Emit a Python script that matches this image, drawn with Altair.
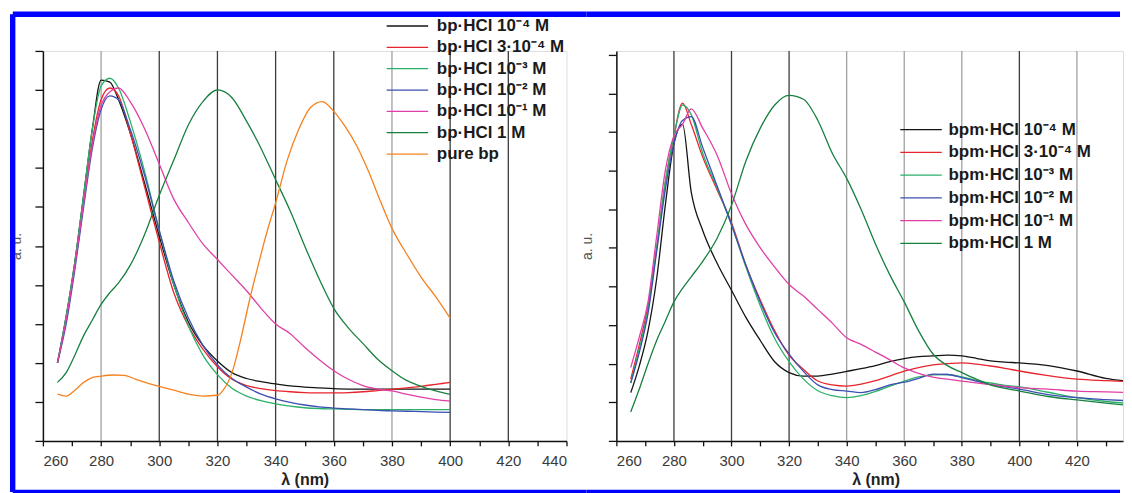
import altair as alt
import pandas as pd

# ---------------- left panel (bp) ----------------
bp_names = ["bp·HCl 10⁻⁴ M", "bp·HCl 3·10⁻⁴ M", "bp·HCl 10⁻³ M", "bp·HCl 10⁻² M",
            "bp·HCl 10⁻¹ M", "bp·HCl 1 M", "pure bp"]
bp_colors = ["#141414", "#e8242c", "#2bb06a", "#3e4fb2", "#e03fa6", "#17803f", "#f5821f"]

bp_wl = [265, 268, 271, 274, 277, 280, 283, 286, 290, 295, 300, 305, 310, 315, 320,
         325, 330, 335, 340, 345, 350, 355, 360, 365, 370, 375, 380, 385, 390, 395, 400]
bp_1e4 = [2.0, 3.2, 4.6, 6.3, 8.0, 9.25, 9.2, 8.75, 7.9, 6.6, 5.25, 4.0, 3.05, 2.45, 2.05,
          1.75, 1.6, 1.52, 1.46, 1.41, 1.38, 1.36, 1.34, 1.33, 1.33, 1.33, 1.33, 1.33, 1.33, 1.33, 1.33]
bp_3e4 = [2.0, 3.1, 4.5, 6.1, 7.7, 8.75, 9.05, 8.85, 7.9, 6.5, 5.1, 3.8, 2.95, 2.35, 1.9,
          1.58, 1.42, 1.34, 1.29, 1.26, 1.24, 1.23, 1.23, 1.24, 1.26, 1.29, 1.32, 1.36, 1.4, 1.45, 1.5]
bp_1e3 = [2.0, 3.2, 4.6, 6.3, 8.0, 9.1, 9.3, 9.05, 8.2, 6.9, 5.4, 4.0, 2.95, 2.2, 1.7,
          1.35, 1.15, 1.03, 0.95, 0.89, 0.85, 0.83, 0.82, 0.81, 0.8, 0.8, 0.8, 0.8, 0.8, 0.8, 0.8]
bp_1e2 = [2.0, 3.0, 4.4, 6.0, 7.5, 8.5, 8.85, 8.75, 8.0, 6.8, 5.4, 4.1, 3.15, 2.45, 1.95,
          1.6, 1.38, 1.2, 1.08, 0.99, 0.92, 0.87, 0.84, 0.82, 0.8, 0.78, 0.77, 0.76, 0.75, 0.74, 0.73]
bp_1e1 = [2.0, 3.1, 4.5, 6.1, 7.6, 8.6, 8.95, 9.05, 8.7, 8.0, 7.1, 6.2, 5.6, 5.05, 4.65,
          4.25, 3.85, 3.4, 3.0, 2.75, 2.4, 2.08, 1.8, 1.58, 1.42, 1.33, 1.28, 1.2, 1.12, 1.06, 1.02]
bp_1m = [1.5, 1.75, 2.2, 2.7, 3.1, 3.5, 3.8, 4.05, 4.5, 5.3, 6.3, 7.2, 8.1, 8.7, 9.0,
         8.8, 8.2, 7.5, 6.7, 5.9, 5.0, 4.15, 3.4, 2.9, 2.5, 2.1, 1.8, 1.55, 1.4, 1.28, 1.19]
pure_wl = [265, 268, 271, 274, 277, 280, 284, 288, 292, 296, 300, 305, 310, 315, 320,
           322, 325, 328, 331, 334, 337, 340, 344, 348, 352, 356, 360, 364, 368, 372,
           376, 380, 385, 390, 395, 400]
pure_bp = [1.2, 1.15, 1.3, 1.5, 1.62, 1.66, 1.69, 1.68, 1.58, 1.48, 1.4, 1.3, 1.2, 1.15, 1.17,
           1.3, 1.75, 2.6, 3.6, 4.5, 5.35, 6.1, 7.2, 8.0, 8.55, 8.7, 8.45, 8.05, 7.55, 6.9,
           6.15, 5.45, 4.8, 4.2, 3.7, 3.15]

# ---------------- right panel (bpm) ----------------
bpm_names = ["bpm·HCl 10⁻⁴ M", "bpm·HCl 3·10⁻⁴ M", "bpm·HCl 10⁻³ M", "bpm·HCl 10⁻² M",
             "bpm·HCl 10⁻¹ M", "bpm·HCl 1 M"]
bpm_colors = ["#141414", "#e8242c", "#2bb06a", "#3e4fb2", "#e03fa6", "#17803f"]

bpm_wl = [265, 268, 271, 274, 277, 280, 283, 286, 290, 295, 300, 305, 310, 315, 320,
          325, 330, 335, 340, 345, 350, 355, 360, 365, 370, 375, 380, 385, 390, 395, 400,
          410, 420, 430, 440]
bpm_1e4 = [1.25, 1.95, 2.85, 4.2, 6.1, 7.7, 8.2, 6.45, 5.45, 4.6, 3.9, 3.2, 2.6, 2.05, 1.77,
           1.68, 1.68, 1.73, 1.8, 1.87, 1.95, 2.05, 2.13, 2.18, 2.2, 2.22, 2.2, 2.14, 2.07, 2.04,
           2.02, 1.95, 1.81, 1.62, 1.53]
bpm_3e4 = [1.6, 2.5, 3.5, 5.0, 6.7, 7.9, 8.75, 8.2, 7.35, 6.5, 5.65, 4.55, 3.65, 2.85, 2.22,
           1.85, 1.55, 1.45, 1.42, 1.47, 1.56, 1.68, 1.81, 1.9, 1.97, 2.0, 2.02, 1.99, 1.94, 1.88,
           1.81, 1.69, 1.6, 1.56, 1.53]
bpm_1e3 = [1.5, 2.4, 3.4, 5.0, 6.7, 7.9, 8.7, 8.45, 7.45, 6.55, 5.6, 4.5, 3.5, 2.65, 2.05,
           1.6, 1.3, 1.17, 1.12, 1.17, 1.28, 1.42, 1.55, 1.66, 1.71, 1.72, 1.66, 1.57, 1.5, 1.44,
           1.4, 1.26, 1.12, 1.02, 0.96]
bpm_1e2 = [1.5, 2.3, 3.3, 4.9, 6.5, 7.7, 8.3, 8.4, 7.6, 6.6, 5.6, 4.55, 3.6, 2.8, 2.25,
           1.8, 1.45, 1.33, 1.29, 1.25, 1.33, 1.45, 1.52, 1.62, 1.73, 1.72, 1.64, 1.55, 1.46, 1.4,
           1.34, 1.2, 1.12, 1.07, 1.03]
bpm_1e1 = [1.9, 2.7, 3.6, 5.3, 7.0, 7.9, 8.2, 8.6, 8.1, 7.4, 6.4, 5.6, 5.0, 4.5, 4.05,
           3.75, 3.4, 3.05, 2.67, 2.5, 2.3, 2.1, 1.89, 1.75, 1.65, 1.6, 1.55, 1.5, 1.46, 1.42,
           1.38, 1.34, 1.29, 1.27, 1.25]
bpm_1m = [0.75, 1.35, 2.0, 2.6, 3.1, 3.6, 3.95, 4.25, 4.65, 5.25, 6.1, 7.25, 8.1, 8.7, 8.95,
          8.85, 8.3, 7.45, 6.8, 6.0, 5.1, 4.3, 3.6, 2.85, 2.25, 1.95, 1.77, 1.6, 1.45, 1.36,
          1.29, 1.15, 1.06, 0.98, 0.9]

grid_left_dark = [300, 320, 340, 360, 400, 420]
grid_left_light = [280, 380]
grid_right_dark = [280, 300, 320, 400]
grid_right_light = [340, 360, 380, 420]


def long_table(entries):
    rows = []
    for order, (name, wl, vals) in enumerate(entries):
        for w, v in zip(wl, vals):
            rows.append({"wl": w, "v": v, "s": name, "k": order})
    return pd.DataFrame(rows)


left_df = long_table([
    (bp_names[0], bp_wl, bp_1e4), (bp_names[1], bp_wl, bp_3e4), (bp_names[2], bp_wl, bp_1e3),
    (bp_names[3], bp_wl, bp_1e2), (bp_names[4], bp_wl, bp_1e1), (bp_names[5], bp_wl, bp_1m),
    (bp_names[6], pure_wl, pure_bp)])
right_df = long_table([
    (bpm_names[0], bpm_wl, bpm_1e4), (bpm_names[1], bpm_wl, bpm_3e4), (bpm_names[2], bpm_wl, bpm_1e3),
    (bpm_names[3], bpm_wl, bpm_1e2), (bpm_names[4], bpm_wl, bpm_1e1), (bpm_names[5], bpm_wl, bpm_1m)])

FONT = "Liberation Sans"
BLUE = "#0000ff"
LEGEND_LINE = "M-5.2,0H5.2"


def x_axis(title_x):
    return alt.Axis(values=list(range(260, 441, 10)),
                    labelExpr="datum.value % 20 == 0 ? datum.label : ''",
                    tickSize=5, tickWidth=1.3, tickColor="#111", domainColor="#111", domainWidth=1.5,
                    labelFontSize=15, labelColor="#3a3a3a", labelPadding=8, labelFont=FONT,
                    title="λ (nm)", titleFontSize=16, titleFontWeight="bold", titleColor="#222",
                    titlePadding=3, titleFont=FONT, titleX=title_x, grid=False)


def y_axis(pad):
    return alt.Axis(values=list(range(0, 11)), labels=False, tickSize=8, tickWidth=1.3,
                    tickColor="#111", domainColor="#111", domainWidth=1.5, grid=False,
                    title="a. u.", titleFontSize=14, titleFontWeight="normal", titleColor="#555",
                    titleFont=FONT, titlePadding=pad)


def panel(df, names, colors, xdom, ydom, width, title_x, dark, light, legend_x, legend_y,
          row_pad, label_off, bar_x, bar_x2, left_bar, ytitle_pad):
    xs = alt.Scale(domain=xdom, nice=False, zero=False)
    ys = alt.Scale(domain=ydom, nice=False, zero=False)
    xa = x_axis(title_x)
    grid_dark = alt.Chart(pd.DataFrame({"wl": dark})).mark_rule(
        color="#3c3c3c", strokeWidth=1.3).encode(
        x=alt.X("wl:Q", scale=xs, axis=xa))
    grid_light = alt.Chart(pd.DataFrame({"wl": light})).mark_rule(
        color="#a0a0a0", strokeWidth=1.3).encode(
        x=alt.X("wl:Q", scale=xs, axis=xa))
    lines = alt.Chart(df).mark_line(strokeWidth=1.3, clip=True, interpolate="monotone").encode(
        x=alt.X("wl:Q", scale=xs, axis=xa),
        y=alt.Y("v:Q", scale=ys, axis=y_axis(ytitle_pad)),
        color=alt.Color("s:N", scale=alt.Scale(domain=names, range=colors),
                        legend=alt.Legend(orient="none", legendX=legend_x, legendY=legend_y,
                                          direction="vertical", title=None,
                                          symbolType=LEGEND_LINE, symbolSize=64,
                                          symbolStrokeWidth=1.3, labelFont=FONT,
                                          labelFontWeight="bold", labelFontSize=17,
                                          labelColor="#1a1a1a", rowPadding=row_pad,
                                          labelOffset=label_off, labelLimit=400)),
        order=alt.Order("k:Q"),
    )
    one = pd.DataFrame({"a": [0]})
    top_bar = alt.Chart(one).mark_rule(color=BLUE, strokeWidth=5.6).encode(
        x=alt.value(bar_x), x2=alt.value(bar_x2), y=alt.value(-36.8))
    bottom_bar = alt.Chart(one).mark_rule(color=BLUE, strokeWidth=4.6).encode(
        x=alt.value(bar_x), x2=alt.value(bar_x2), y=alt.value(442.2))
    layers = [grid_light, grid_dark, lines, top_bar, bottom_bar]
    if left_bar:
        layers.append(alt.Chart(one).mark_rule(color=BLUE, strokeWidth=5.4).encode(
            x=alt.value(-30.3), y=alt.value(-36.9), y2=alt.value(442.2)))
    return alt.layer(*layers).properties(width=width, height=391)


left = panel(left_df, bp_names, bp_colors, [260, 440], [0, 10], 525, 262.5,
             grid_left_dark, grid_left_light, 357, -33.5, 3.4, 21, -30.2, 545, True, 11)
right = panel(right_df, bpm_names, bpm_colors, [260, 436], [0, 10.1], 508, 260,
              grid_right_dark, grid_right_light, 297, 70.5, 4.8, 19, -30, 505, False, 13)

chart = alt.hconcat(left, right, spacing=50, bounds="flush").resolve_scale(
    color="independent", x="independent", y="independent"
).properties(
    padding={"left": 0, "top": 1.4, "right": 0, "bottom": 0}
).configure_view(strokeWidth=0).configure(font=FONT)

chart.save("out.html", embed_options={"renderer": "svg", "actions": False})
